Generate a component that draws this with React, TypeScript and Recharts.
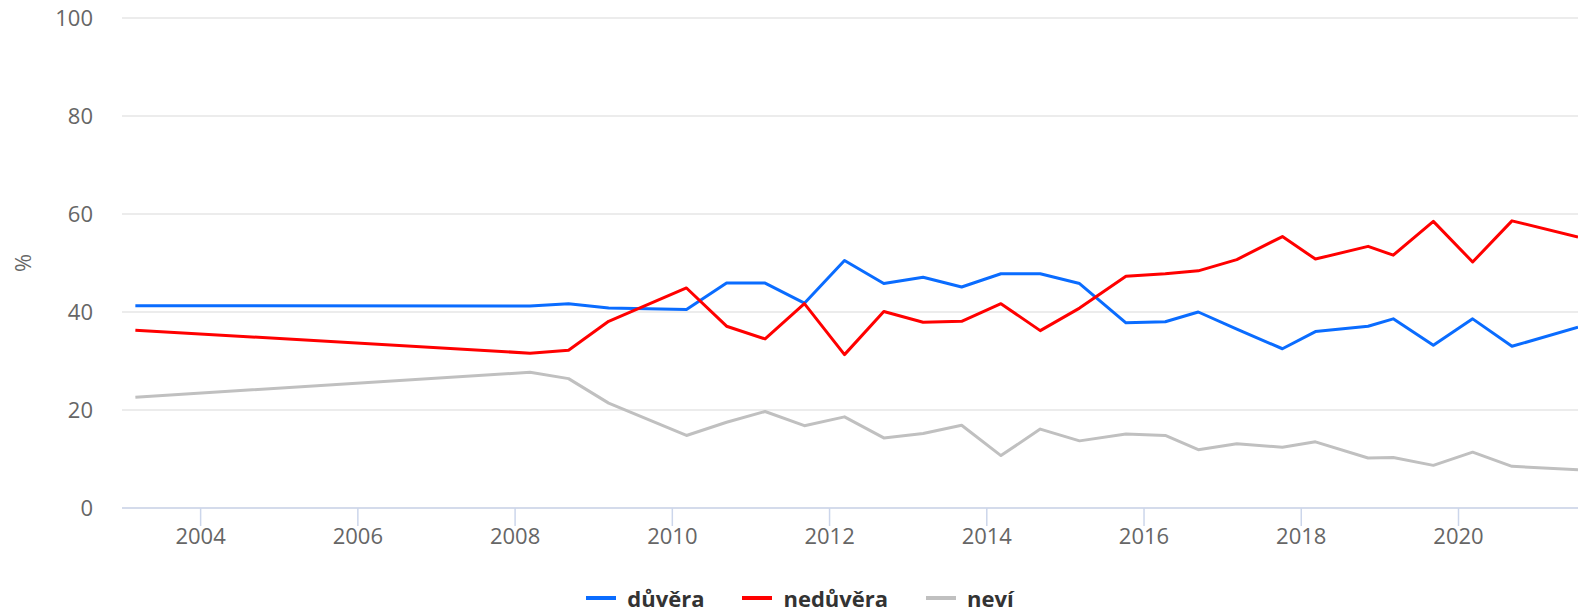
import React from 'react';
import { LineChart, Line, XAxis, YAxis, CartesianGrid, Legend, Label } from 'recharts';

// survey dates as fractional years
const dates = [
  2003.17, 2008.19, 2008.68, 2009.19, 2010.18, 2010.69, 2011.18, 2011.68, 2012.19, 2012.69,
  2013.19, 2013.68, 2014.18, 2014.68, 2015.18, 2015.77, 2016.27, 2016.69, 2017.18, 2017.76,
  2018.18, 2018.85, 2019.17, 2019.68, 2020.18, 2020.68, 2021.52,
];

const duvera = [
  41.3, 41.2, 41.7, 40.8, 40.5, 45.9, 45.9, 41.8, 50.5, 45.8,
  47.1, 45.1, 47.8, 47.8, 45.8, 37.8, 38.0, 40.0, 36.5, 32.5,
  36.0, 37.1, 38.6, 33.2, 38.6, 33.0, 36.9,
];

const neduvera = [
  36.3, 31.6, 32.2, 38.1, 44.9, 37.1, 34.5, 41.7, 31.3, 40.1,
  37.9, 38.1, 41.7, 36.2, 40.8, 47.3, 47.8, 48.4, 50.7, 55.4,
  50.8, 53.4, 51.6, 58.5, 50.2, 58.6, 55.3,
];

const nevi = [
  22.6, 27.7, 26.4, 21.4, 14.8, 17.5, 19.7, 16.8, 18.6, 14.3,
  15.2, 16.9, 10.7, 16.1, 13.7, 15.1, 14.8, 11.9, 13.1, 12.4,
  13.5, 10.2, 10.3, 8.7, 11.4, 8.5, 7.8,
];

const xTicks = [2004, 2006, 2008, 2010, 2012, 2014, 2016, 2018, 2020];
const yTicks = [0, 20, 40, 60, 80, 100];

const series = [
  { key: 'duvera', name: 'důvěra', color: '#0a6cff' },
  { key: 'neduvera', name: 'nedůvěra', color: '#ff0000' },
  { key: 'nevi', name: 'neví', color: '#c0c0c0' },
];

const data = dates.map((t, i) => ({
  t,
  duvera: duvera[i],
  neduvera: neduvera[i],
  nevi: nevi[i],
}));

const LegendBox = () => (
  <div style={{ display: 'flex', justifyContent: 'center', alignItems: 'center', height: 26, paddingLeft: 22 }}>
    {series.map((s, i) => (
      <div key={s.key} style={{ display: 'flex', alignItems: 'center', marginLeft: i ? 38 : 0 }}>
        <span style={{ display: 'inline-block', width: 30, height: 4, background: s.color, marginRight: 11 }} />
        <span style={{ fontWeight: 700, fontSize: 22, color: '#333', lineHeight: '26px' }}>{s.name}</span>
      </div>
    ))}
  </div>
);

const YTitle = (props: any) => {
  const vb = props.viewBox || { y: 18, height: 490 };
  const cy = vb.y + vb.height / 2;
  return (
    <text x={22} y={cy} transform={`rotate(-90 22 ${cy})`} textAnchor="middle" dominantBaseline="central"
      fill="#666" fontSize={22}>%</text>
  );
};

export default function App() {
  return (
    <div style={{ position: 'absolute', left: 0, top: 0, width: 1578, height: 611, fontFamily: '"Open Sans", sans-serif', background: '#fff' }}>
      <LineChart width={1578} height={611} data={data} margin={{ top: 18, right: 0, bottom: 0, left: 0 }}>
        <CartesianGrid vertical={false} stroke="#e6e6e6" strokeWidth={1.5} />
        <XAxis
          type="number"
          dataKey="t"
          domain={[2003.0, 2021.52]}
          allowDataOverflow
          ticks={xTicks}
          height={77}
          tickSize={18}
          tickMargin={2}
          axisLine={{ stroke: '#ccd6eb', strokeWidth: 1.5 }}
          tickLine={{ stroke: '#ccd6eb', strokeWidth: 1.5 }}
          tick={{ fill: '#666', fontSize: 22 }}
        />
        <YAxis
          domain={[0, 100]}
          ticks={yTicks}
          width={122}
          tickSize={0}
          tickMargin={29}
          axisLine={false}
          tickLine={false}
          tick={{ fill: '#666', fontSize: 22 }}
        >
          <Label content={<YTitle />} />
        </YAxis>
        <Legend verticalAlign="bottom" content={<LegendBox />} />
        {series.map((s) => (
          <Line
            key={s.key}
            type="linear"
            dataKey={s.key}
            name={s.name}
            stroke={s.color}
            strokeWidth={3}
            dot={false}
            strokeLinejoin="round"
            isAnimationActive={false}
          />
        ))}
      </LineChart>
    </div>
  );
}
